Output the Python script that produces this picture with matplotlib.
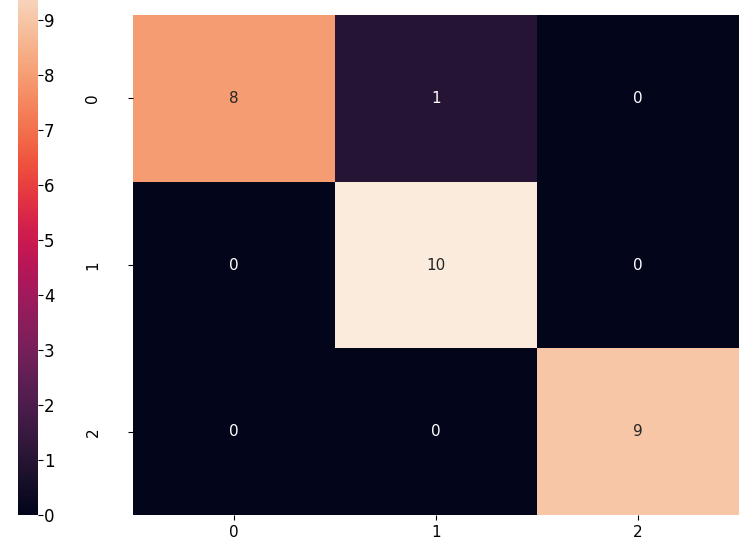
import numpy as np
import matplotlib
matplotlib.use("Agg")
import matplotlib.pyplot as plt
import seaborn as sns

labels = ["0", "1", "2"]
conf = np.array([[8, 1, 0],
                 [0, 10, 0],
                 [0, 0, 9]])

fig = plt.figure(figsize=(7.39, 5.58), dpi=100)
ax = fig.add_axes([0.18, 0.077, 0.82, 0.896])
cax = fig.add_axes([0.024, 0.077, 0.027, 0.986])

sns.heatmap(conf, annot=True, ax=ax, cbar_ax=cax, vmin=0, vmax=10,
            xticklabels=labels, yticklabels=labels,
            annot_kws={"fontsize": 11})
ax.tick_params(labelsize=11)
ax.tick_params(axis="y", pad=20)
cax.tick_params(labelsize=12, pad=1)
cax.set_yticks(range(0, 10))

fig.savefig("out.png", dpi=100)
